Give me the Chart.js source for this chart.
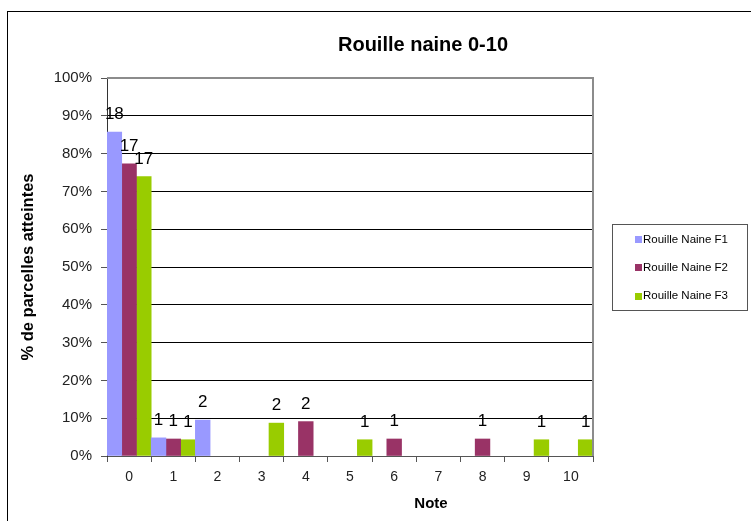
<!DOCTYPE html>
<html>
<head>
<meta charset="utf-8">
<script src="https://cdn.jsdelivr.net/npm/chart.js@4.4.1/dist/chart.umd.min.js"></script>
<style>
  body { margin: 0; background: #fff; }
  #wrap { width: 751px; height: 521px; }
</style>
</head>
<body>
<div id="wrap"><canvas id="chart" width="751" height="521"></canvas></div>
<script>
const categories = ['0', '1', '2', '3', '4', '5', '6', '7', '8', '9', '10'];
const seriesNames = ['Rouille Naine F1', 'Rouille Naine F2', 'Rouille Naine F3'];
// % de parcelles atteintes
const f1Values = [85.7, 4.8, 9.5, null, null, null, null, null, null, null, null];
const f2Values = [77.3, 4.5, null, null, 9.1, null, 4.5, null, 4.5, null, null];
const f3Values = [73.9, 4.3, null, 8.7, null, 4.3, null, null, null, 4.3, 4.3];
// nombre de parcelles (étiquettes)
const f1Counts = [18, 1, 2, null, null, null, null, null, null, null, null];
const f2Counts = [17, 1, null, null, 2, null, 1, null, 1, null, null];
const f3Counts = [17, 1, null, 2, null, 1, null, null, null, 1, 1];
const yTicks = [0, 10, 20, 30, 40, 50, 60, 70, 80, 90, 100];

const FONT = "'Liberation Sans', Arial, sans-serif";
const colors = ['#9999FF', '#993366', '#99CC00'];

// labels, titre, légende et cadres
const extras = {
    id: 'extras',
    beforeDraw(chart) {
        const ctx = chart.ctx;
        ctx.save();
        ctx.fillStyle = '#fff';
        ctx.fillRect(0, 0, chart.width, chart.height);
        ctx.restore();
    },
    afterDatasetsDraw(chart) {
        const ctx = chart.ctx;
        ctx.save();
        ctx.font = '17px ' + FONT;
        ctx.fillStyle = '#000';
        ctx.textAlign = 'center';
        ctx.textBaseline = 'alphabetic';
        chart.data.datasets.forEach((ds, i) => {
            const meta = chart.getDatasetMeta(i);
            meta.data.forEach((bar, j) => {
                const c = ds.counts[j];
                if (c == null) return;
                ctx.fillText(String(c), bar.x, bar.y - 13);
            });
        });
        ctx.restore();
    },
    afterDraw(chart) {
        const ctx = chart.ctx;
        const area = chart.chartArea;
        ctx.save();

        // cadre gris du plot (haut + droite)
        ctx.strokeStyle = '#8c8c8c';
        ctx.lineWidth = 2;
        ctx.beginPath();
        ctx.moveTo(area.left, area.top);
        ctx.lineTo(area.right, area.top);
        ctx.lineTo(area.right, area.bottom);
        ctx.stroke();

        // cadre extérieur
        ctx.strokeStyle = '#000';
        ctx.lineWidth = 1;
        ctx.strokeRect(7.5, 11.5, 900, 700);

        // titre
        ctx.fillStyle = '#000';
        ctx.font = 'bold 20px ' + FONT;
        ctx.textAlign = 'center';
        ctx.textBaseline = 'middle';
        ctx.fillText('Rouille naine 0-10', 423, 45);

        // titre axe x
        ctx.font = 'bold 15px ' + FONT;
        ctx.fillText('Note', 431, 504);

        // légende
        ctx.strokeStyle = '#555';
        ctx.strokeRect(612.5, 224.5, 135, 86);
        ctx.font = '11.5px ' + FONT;
        ctx.textAlign = 'left';
        chart.data.datasets.forEach((ds, i) => {
            const y = 239.5 + i * 28.3;
            ctx.fillStyle = ds.backgroundColor;
            ctx.fillRect(635, Math.round(y - 3.5), 7, 7);
            ctx.fillStyle = '#000';
            ctx.fillText(ds.label, 643, y);
        });
        ctx.restore();
    }
};

const datasets = [f1Values, f2Values, f3Values].map((vals, i) => ({
    label: seriesNames[i],
    data: vals,
    counts: [f1Counts, f2Counts, f3Counts][i],
    backgroundColor: colors[i],
    categoryPercentage: 1,
    barPercentage: 1
}));

new Chart(document.getElementById('chart'), {
    type: 'bar',
    data: { labels: categories, datasets: datasets },
    options: {
        responsive: false,
        animation: false,
        layout: { padding: { left: 8, top: 78, right: 158, bottom: 10 } },
        plugins: {
            legend: { display: false },
            title: { display: false },
            tooltip: { enabled: false }
        },
        scales: {
            x: {
                afterFit: s => { s.height = 55; },
                grid: {
                    offset: true,
                    drawOnChartArea: false,
                    tickLength: 6,
                    tickColor: '#555'
                },
                border: { color: '#555', width: 1 },
                ticks: {
                    padding: 7,
                    color: '#222',
                    font: { family: FONT, size: 14 }
                }
            },
            y: {
                min: 0,
                max: 100,
                afterFit: s => { s.width = 99; },
                afterBuildTicks: s => { s.ticks = yTicks.map(v => ({ value: v })); },
                grid: {
                    color: '#000',
                    tickLength: 6,
                    tickColor: '#555'
                },
                border: { color: '#333', width: 1 },
                ticks: {
                    padding: 9,
                    color: '#222',
                    font: { family: FONT, size: 15 }
                    ,
                    callback: v => v + '%'
                },
                title: {
                    display: true,
                    text: '% de parcelles atteintes',
                    color: '#000',
                    padding: { top: 11, bottom: 0 },
                    font: { family: FONT, size: 16.5, weight: 'bold' }
                }
            }
        }
    },
    plugins: [extras]
});
</script>
</body>
</html>
